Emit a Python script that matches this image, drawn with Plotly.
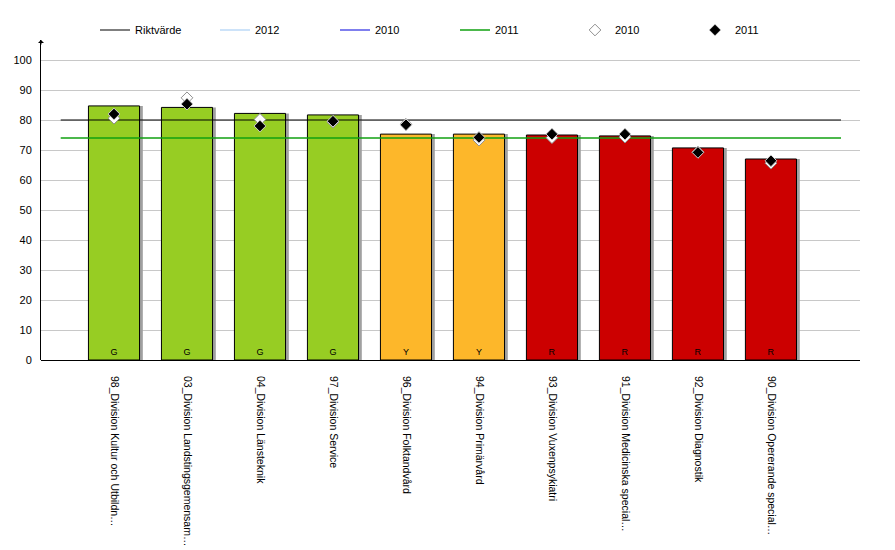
import plotly.graph_objects as go

categories = [
    "98_Division Kultur och Utbildn…",
    "03_Division Landstingsgemensam…",
    "04_Division Länsteknik",
    "97_Division Service",
    "96_Division Folktandvård",
    "94_Division Primärvård",
    "93_Division Vuxenpsykiatri",
    "91_Division Medicinska special…",
    "92_Division Diagnostik",
    "90_Division Opererande special…",
]
values_2012 = [84.7, 84.2, 82.2, 81.7, 75.3, 75.3, 75.0, 74.7, 70.7, 67.0]
status = ["G", "G", "G", "G", "Y", "Y", "R", "R", "R", "R"]
values_2010 = [80.6, 87.4, 80.2, 79.3, 78.6, 73.3, 74.1, 74.3, 69.3, 65.6]
values_2011 = [82.0, 85.3, 78.0, 79.6, 78.4, 74.2, 75.3, 75.3, 69.2, 66.4]
riktvarde = 80
avg_2011 = 74
y_ticks = list(range(0, 101, 10))

status_colors = {"G": "#97CD23", "Y": "#FDB72A", "R": "#CC0000"}
bar_colors = [status_colors[s] for s in status]
x = list(range(len(categories)))

FONT = "Liberation Sans"
LINE_SPAN = (-0.73, 9.96)
BAR_W = 0.7

fig = go.Figure()

# bar shadow
fig.add_trace(go.Bar(
    x=x, y=values_2012, width=BAR_W, offset=-BAR_W / 2 + 0.045,
    marker=dict(color="#A0A0A0", line=dict(width=0)),
    showlegend=False, hoverinfo="skip",
))
# main bars
fig.add_trace(go.Bar(
    x=x, y=values_2012, width=BAR_W, offset=-BAR_W / 2,
    marker=dict(color=bar_colors, line=dict(color="black", width=1)),
    text=status, textposition="inside", insidetextanchor="start",
    textangle=0, textfont=dict(family=FONT, size=9, color="black"),
    showlegend=False,
))

# reference lines
fig.add_trace(go.Scatter(
    x=list(LINE_SPAN), y=[riktvarde, riktvarde], mode="lines",
    line=dict(color="black", width=1.2), name="Riktvärde",
))
fig.add_trace(go.Scatter(
    x=[None], y=[None], mode="lines",
    line=dict(color="#9CC8F4", width=1.2), name="2012",
))
fig.add_trace(go.Scatter(
    x=[None], y=[None], mode="lines",
    line=dict(color="#0000DD", width=1.2), name="2010",
))
fig.add_trace(go.Scatter(
    x=list(LINE_SPAN), y=[avg_2011, avg_2011], mode="lines",
    line=dict(color="#10A010", width=1.5), name="2011",
))

# markers
fig.add_trace(go.Scatter(
    x=x, y=values_2010, mode="markers", name="2010",
    marker=dict(symbol="diamond", size=9, color="white",
                line=dict(color="#909090", width=1)),
))
fig.add_trace(go.Scatter(
    x=x, y=values_2011, mode="markers", name="2011",
    marker=dict(symbol="diamond", size=9, color="black",
                line=dict(color="#D0D0D0", width=1)),
))

fig.update_layout(
    width=895, height=550,
    margin=dict(l=33, r=43, t=32, b=198, autoexpand=False),
    paper_bgcolor="white", plot_bgcolor="white",
    barmode="overlay",
    font=dict(family=FONT, size=11, color="black"),
    showlegend=True,
    legend=dict(
        orientation="h", x=(87 - 33) / 819, xanchor="left",
        y=1 + (32 - 22) / 320, yanchor="middle",
        entrywidth=75, entrywidthmode="pixels",
        font=dict(family=FONT, size=11, color="black"),
        itemwidth=30, bgcolor="rgba(0,0,0,0)",
    ),
    xaxis=dict(
        range=[-1, 10.22], tickmode="array", tickvals=x, ticktext=categories,
        tickangle=90, showgrid=False, zeroline=False, automargin=False,
        showline=False, ticks="", ticklabelstandoff=15,
        tickfont=dict(family=FONT, size=10.5),
    ),
    yaxis=dict(
        range=[0, 106.67], tickmode="array", tickvals=y_ticks, automargin=False,
        showgrid=True, gridcolor="#C8C8C8", gridwidth=1,
        zeroline=True, zerolinecolor="black", zerolinewidth=1,
        showline=True, linecolor="black", linewidth=1,
        ticks="", ticklabelstandoff=6, tickfont=dict(family=FONT, size=11),
    ),
)

# axis arrow at top of y axis
fig.add_annotation(
    x=0, y=1, xref="paper", yref="paper", ax=0, ay=6,
    showarrow=True, arrowhead=1, arrowsize=1, arrowwidth=1, arrowcolor="black", text="",
)

fig.write_html("out.html")
